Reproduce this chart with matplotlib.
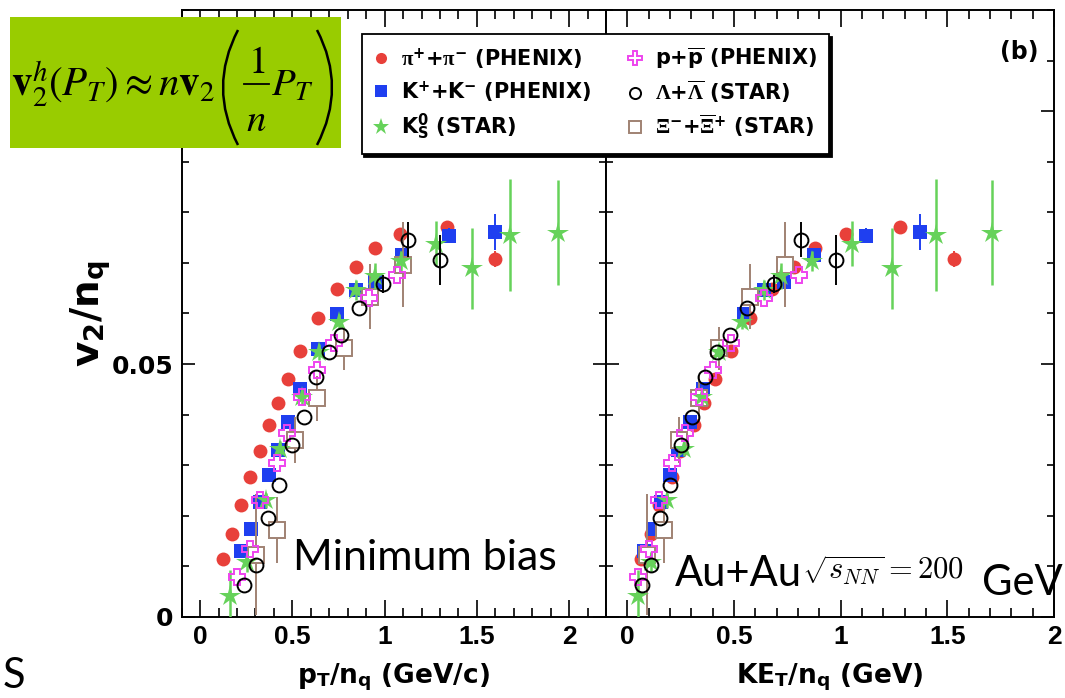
import matplotlib
matplotlib.use('Agg')
import matplotlib.pyplot as plt
from matplotlib.ticker import MultipleLocator
from matplotlib.patches import Rectangle, PathPatch
from matplotlib.path import Path
from matplotlib.lines import Line2D

# ---------------- data ----------------
pi_pt = [0.123, 0.172, 0.221, 0.271, 0.322, 0.373, 0.422, 0.474, 0.543, 0.637, 0.742, 0.845, 0.946, 1.086, 1.339, 1.596]
pi_ke = [0.066, 0.112, 0.150, 0.211, 0.248, 0.312, 0.359, 0.413, 0.484, 0.577, 0.679, 0.780, 0.882, 1.027, 1.276, 1.529]
pi_v2 = [0.0114, 0.0165, 0.0221, 0.0277, 0.0329, 0.0379, 0.0424, 0.0470, 0.0526, 0.0592, 0.0648, 0.0692, 0.0729, 0.0758, 0.0771, 0.0708]
pi_err = [0.0005, 0.0005, 0.0005, 0.0005, 0.0005, 0.0005, 0.0005, 0.0005, 0.0005, 0.0005, 0.0005, 0.0005, 0.0005, 0.0006, 0.0010, 0.0016]

k_pt = [0.223, 0.275, 0.322, 0.373, 0.422, 0.474, 0.543, 0.639, 0.742, 0.845, 0.946, 1.095, 1.348, 1.596]
k_ke = [0.078, 0.120, 0.156, 0.198, 0.237, 0.296, 0.356, 0.424, 0.546, 0.640, 0.733, 0.877, 1.120, 1.370]
k_v2 = [0.0130, 0.0173, 0.0228, 0.0280, 0.0331, 0.0386, 0.0450, 0.0530, 0.0599, 0.0646, 0.0663, 0.0715, 0.0754, 0.0761]
k_err = [0.0005, 0.0005, 0.0005, 0.0005, 0.0005, 0.0005, 0.0005, 0.0005, 0.0005, 0.0005, 0.0005, 0.0008, 0.0015, 0.0036]

ks_pt = [0.163, 0.253, 0.358, 0.434, 0.552, 0.642, 0.751, 0.845, 0.950, 1.089, 1.276, 1.471, 1.678, 1.940]
ks_ke = [0.051, 0.109, 0.184, 0.265, 0.351, 0.429, 0.538, 0.640, 0.718, 0.866, 1.053, 1.241, 1.447, 1.709]
ks_v2 = [0.0042, 0.0109, 0.0231, 0.0333, 0.0435, 0.0524, 0.0584, 0.0646, 0.0674, 0.0704, 0.0738, 0.0689, 0.0755, 0.0760]
ks_err = [0.0050, 0.0020, 0.0015, 0.0015, 0.0015, 0.0015, 0.0015, 0.0020, 0.0025, 0.0020, 0.0045, 0.0080, 0.0110, 0.0104]

p_pt = [0.199, 0.271, 0.326, 0.416, 0.471, 0.552, 0.633, 0.724, 0.914, 1.068]
p_ke = [0.050, 0.100, 0.150, 0.211, 0.270, 0.335, 0.403, 0.484, 0.640, 0.804]
p_v2 = [0.0080, 0.0135, 0.0231, 0.0304, 0.0363, 0.0435, 0.0488, 0.0541, 0.0630, 0.0676]
p_err = [0.0, 0.0, 0.0, 0.0, 0.0, 0.0, 0.0, 0.0, 0.0, 0.0]

lam_pt = [0.235, 0.304, 0.366, 0.429, 0.498, 0.565, 0.630, 0.700, 0.764, 0.860, 0.992, 1.126, 1.298]
lam_ke = [0.070, 0.109, 0.153, 0.200, 0.253, 0.304, 0.362, 0.421, 0.480, 0.562, 0.686, 0.815, 0.980]
lam_v2 = [0.0063, 0.0103, 0.0196, 0.0260, 0.0341, 0.0396, 0.0475, 0.0524, 0.0557, 0.0610, 0.0659, 0.0746, 0.0706]
lam_err = [0.0, 0.0, 0.0, 0.0, 0.0, 0.0, 0.0, 0.0, 0.0, 0.0, 0.0018, 0.0035, 0.0050]

xi_pt = [0.304, 0.416, 0.516, 0.633, 0.778, 0.923, 1.100]
xi_ke = [0.094, 0.170, 0.240, 0.335, 0.429, 0.577, 0.741]
xi_v2 = [0.0123, 0.0172, 0.0350, 0.0432, 0.0531, 0.0633, 0.0696]
xi_err = [0.0120, 0.0065, 0.0046, 0.0045, 0.0043, 0.0064, 0.0084]

labels = [r'$\mathrm{\pi}^{\mathbf{+}}$+$\mathrm{\pi}^{\mathbf{-}}$ (PHENIX)',
          r'K$^{\mathbf{+}}$+K$^{\mathbf{-}}$ (PHENIX)',
          r'K$^{\mathbf{0}}_{\mathbf{S}}$ (STAR)',
          r'p+$\overline{\mathbf{p}}$ (PHENIX)',
          r'$\Lambda$+$\overline{\Lambda}$ (STAR)',
          r'$\Xi^{\mathbf{-}}$+$\overline{\Xi}^{\mathbf{+}}$ (STAR)']

x_ticks = [0, 0.5, 1, 1.5, 2]
x_tick_labels = ['0', '0.5', '1', '1.5', '2']
y_ticks = [0, 0.05, 0.1]
y_tick_labels = ['0', '0.05', '']   # the 0.1 label is hidden under the formula box

# ---------------- styling ----------------
plt.rcParams['mathtext.fontset'] = 'custom'
plt.rcParams['mathtext.rm'] = 'Liberation Serif:bold'
plt.rcParams['mathtext.it'] = 'Liberation Serif:italic'
plt.rcParams['mathtext.bf'] = 'DejaVu Sans:bold'
plt.rcParams['mathtext.sf'] = 'DejaVu Sans:bold'
plt.rcParams['font.family'] = ['DejaVu Sans']

W, H = 1065, 698
fig = plt.figure(figsize=(W / 100, H / 100), dpi=100)


def fx(px):
    return px / W


def fy(py):
    return 1 - py / H


axL = fig.add_axes([fx(181.7), fy(617), fx(606) - fx(181.7), fy(10) - fy(617)])
axR = fig.add_axes([fx(606), fy(617), fx(1054) - fx(606), fy(10) - fy(617)])

c_red = '#e8403a'
c_blue = '#1f3ff0'
c_green = '#66d25a'
c_mag = '#ee44ee'
c_brown = '#a08273'

styles = [
    dict(marker='o', ms=10, mfc=c_red, mec=c_red, color=c_red, mew=0, zorder=3),
    dict(marker='s', ms=10.5, mfc=c_blue, mec=c_blue, color=c_blue, mew=0, zorder=4),
    dict(marker='*', ms=16, mfc=c_green, mec=c_green, color=c_green, mew=0, zorder=6),
    dict(marker='P', ms=12, mfc='none', mec=c_mag, color=c_mag, mew=1.4, zorder=7),
    dict(marker='o', ms=10, mfc='none', mec='black', color='black', mew=1.4, zorder=8),
    dict(marker='s', ms=11, mfc='white', mec=c_brown, color=c_brown, mew=1.4, zorder=5),
]

left_sets = [(pi_pt, pi_v2, pi_err), (k_pt, k_v2, k_err), (ks_pt, ks_v2, ks_err),
             (p_pt, p_v2, p_err), (lam_pt, lam_v2, lam_err), (xi_pt, xi_v2, xi_err)]
right_sets = [(pi_ke, pi_v2, pi_err), (k_ke, k_v2, k_err), (ks_ke, ks_v2, ks_err),
              (p_ke, p_v2, p_err), (lam_ke, lam_v2, lam_err), (xi_ke, xi_v2, xi_err)]

for ax, sets in ((axL, left_sets), (axR, right_sets)):
    for (x, y, e), st in zip(sets, styles):
        elw = 1.8 if st['color'] == c_green else 1.4
        ax.errorbar(x, y, yerr=e, fmt='none', ecolor=st['color'], elinewidth=elw,
                    capsize=0, zorder=st['zorder'] - 0.5)
        ax.plot(x, y, linestyle='none', marker=st['marker'], ms=st['ms'],
                mfc=st['mfc'], mec=st['mec'], mew=st['mew'], zorder=st['zorder'])

axL.set_xlim(-0.1, 2.2)
axR.set_xlim(-0.1, 2.0)
for ax in (axL, axR):
    ax.set_ylim(0, 0.12)
    ax.xaxis.set_minor_locator(MultipleLocator(0.1))
    ax.yaxis.set_minor_locator(MultipleLocator(0.01))
    ax.set_xticks(x_ticks, x_tick_labels, fontfamily='Liberation Sans',
                  fontweight='bold', fontsize=19)
    ax.tick_params(which='both', direction='in', top=True, right=True, width=1.2)
    ax.tick_params(axis='x', which='major', length=12, pad=6)
    ax.tick_params(axis='x', which='minor', length=6.5)
    ax.tick_params(axis='y', which='major', length=9.5, pad=6)
    ax.tick_params(axis='y', which='minor', length=5)
    for s in ax.spines.values():
        s.set_linewidth(1.4)

axL.set_yticks(y_ticks, y_tick_labels, fontfamily='DejaVu Sans', fontweight='bold', fontsize=18)
axR.set_yticks(y_ticks)
axR.tick_params(labelleft=False)

axL.set_xlabel(r'p$_{\mathbf{T}}$/n$_{\mathbf{q}}$ (GeV/c)', fontsize=19, fontweight='bold', labelpad=9)
axR.set_xlabel(r'KE$_{\mathbf{T}}$/n$_{\mathbf{q}}$ (GeV)', fontsize=19, fontweight='bold', labelpad=9)
axL.set_ylabel(r'v$_{\mathbf{2}}$/n$_{\mathbf{q}}$', fontsize=28, fontweight='bold')
axL.yaxis.label.set(ha='center', va='center', rotation_mode='anchor')
axL.yaxis.set_label_coords((91 - 181.7) / (606 - 181.7), (617 - 313) / 607)

# legend
handles = [Line2D([], [], linestyle='none', marker=st['marker'], ms=st['ms'] * 0.8,
                  mfc=st['mfc'], mec=st['mec'], mew=st['mew']) for st in styles]
leg = fig.legend(handles, labels, ncol=2,
                 loc='upper left', bbox_to_anchor=(fx(361.7), fy(35), fx(829) - fx(361.7), 0.001),
                 mode='expand', frameon=True, fancybox=False, framealpha=1,
                 edgecolor='black', prop=dict(family='DejaVu Sans', weight='bold', size=15),
                 handlelength=0.8, handletextpad=0.55, borderpad=0.55, labelspacing=0.38,
                 borderaxespad=0, shadow={'color': 'black', 'alpha': 1.0})
leg.get_frame().set_linewidth(1.3)

# formula box (pieces placed in figure pixels)
fig.add_artist(Rectangle((fx(10), fy(148)), fx(341) - fx(10), fy(17) - fy(148),
                         transform=fig.transFigure, facecolor='#99cc00', edgecolor='none', zorder=10))
fkw = dict(math_fontfamily='stix', fontweight='normal', zorder=11, va='baseline')
fig.text(fx(11), fy(96), r'$\mathbf{v}_2^h(P_T)\approx n\mathbf{v}_2$', ha='left', fontsize=29.5, **fkw)
fig.text(fx(257), fy(73), r'$1$', ha='center', fontsize=28, **fkw)
fig.text(fx(256), fy(131), r'$n$', ha='center', fontsize=28, **fkw)
fig.text(fx(271), fy(96), r'$P_T$', ha='left', fontsize=28, **fkw)
fig.add_artist(Line2D([fx(244), fx(269)], [fy(84), fy(84)], transform=fig.transFigure,
                      color='black', lw=1.3, zorder=11))
for xe, xc in ((238, 208), (317, 347)):
    pth = Path([(fx(xe), fy(30)), (fx(xc), fy(87.5)), (fx(xe), fy(145))],
               [Path.MOVETO, Path.CURVE3, Path.CURVE3])
    fig.add_artist(PathPatch(pth, transform=fig.transFigure, facecolor='none',
                             edgecolor='black', lw=1.8, zorder=11))

# annotations
fig.text(fx(293), fy(570), 'Minimum bias', fontfamily='Lato', fontweight='normal', fontsize=31)
fig.text(fx(675), fy(586), 'Au+Au', fontfamily='Lato', fontweight='normal', fontsize=30)
fig.text(fx(802), fy(580), r'$\sqrt{s_{NN}}=200$', math_fontfamily='cm', fontsize=22)
fig.text(fx(982), fy(595), 'GeV', fontfamily='Lato', fontweight='normal', fontsize=30)
fig.text(fx(3), fy(688), 'S', fontfamily='Lato', fontweight='normal', fontsize=30)
fig.text(fx(1019), fy(52), '(b)', fontfamily='DejaVu Sans', fontweight='bold', fontsize=17,
         ha='center', va='center')

fig.savefig('out.png', dpi=100)
